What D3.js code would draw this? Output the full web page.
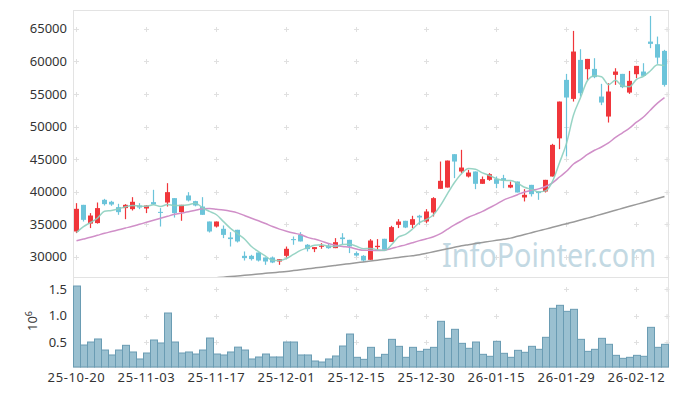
<!DOCTYPE html>
<html>
<head>
<meta charset="utf-8">
<script src="https://cdn.jsdelivr.net/npm/d3@7"></script>
<style>
  body { margin: 0; background: #fff; }
  svg { display: block; font-family: "Noto Sans", sans-serif; }
</style>
</head>
<body>
<div id="chart"></div>
<script>
// trading days shown on the chart
const dates = [
  "2025-10-20","2025-10-21","2025-10-22","2025-10-23","2025-10-24","2025-10-27","2025-10-28","2025-10-29","2025-10-30","2025-10-31",
  "2025-11-03","2025-11-04","2025-11-05","2025-11-06","2025-11-07","2025-11-10","2025-11-11","2025-11-12","2025-11-13","2025-11-14",
  "2025-11-17","2025-11-18","2025-11-19","2025-11-20","2025-11-21","2025-11-24","2025-11-25","2025-11-26","2025-11-27","2025-11-28",
  "2025-12-01","2025-12-02","2025-12-03","2025-12-04","2025-12-05","2025-12-08","2025-12-09","2025-12-10","2025-12-11","2025-12-12",
  "2025-12-15","2025-12-16","2025-12-17","2025-12-18","2025-12-19","2025-12-22","2025-12-23","2025-12-24","2025-12-26","2025-12-29",
  "2025-12-30","2026-01-02","2026-01-05","2026-01-06","2026-01-07","2026-01-08","2026-01-09","2026-01-12","2026-01-13","2026-01-14",
  "2026-01-15","2026-01-16","2026-01-19","2026-01-20","2026-01-21","2026-01-22","2026-01-23","2026-01-26","2026-01-27","2026-01-28",
  "2026-01-29","2026-01-30","2026-02-02","2026-02-03","2026-02-04","2026-02-05","2026-02-06","2026-02-09","2026-02-10","2026-02-11",
  "2026-02-12","2026-02-13","2026-02-19","2026-02-20","2026-02-23"
];

const open = [
  33890,37980,35100,35180,38750,38450,37630,37480,37320,37880,
  37420,38400,36900,38340,39010,36860,39420,38550,37720,35420,
  34650,34300,32970,34150,30150,30150,30660,29900,29900,29280,
  30150,32720,33380,31850,31180,31540,31720,31330,32970,32610,
  30570,30150,29540,31490,32770,32280,34910,35530,34910,36300,
  35420,36800,40440,40640,45760,43100,42330,43100,41210,41820,
  41930,42080,40640,41560,39110,41050,40030,40030,42330,48190,
  57170,54250,60240,58810,58860,54610,51540,57940,58090,55220,
  58040,58450,63050,62650,61620
];
const high = [
  38240,37980,36710,38340,38900,38600,38140,38090,39160,38240,
  37900,40290,37480,41310,39010,37980,39930,38600,39160,35420,
  35420,34810,33790,34150,30820,30310,30660,29900,30050,29650,
  31580,33120,33790,31950,31490,32100,32100,32870,33630,32610,
  30820,30260,32720,32720,32770,34760,35780,35530,36300,36450,
  37320,39160,44630,44780,45760,46430,43350,43100,42330,42850,
  42330,42590,41560,41560,40390,41050,40030,41820,47350,53840,
  58090,64690,61880,60390,60500,56560,56660,58960,58090,58550,
  59320,59730,66990,63820,61780
];
const low = [
  33640,35420,34410,35100,37880,37830,36450,35780,37110,37320,
  36710,37980,34650,37720,36030,35530,38500,37750,36450,33730,
  34500,32870,31580,32200,29430,29430,29280,28770,29030,28770,
  29900,31850,32360,30820,30720,31230,31230,31330,31950,30570,
  30050,29230,29540,31080,31080,32280,34410,34410,34410,34910,
  35180,36190,40440,40640,42080,42850,42180,40390,41210,41670,
  40540,40540,40540,39880,38500,39260,38750,39880,42330,46530,
  45400,53840,54610,57170,57430,53290,50620,56400,55900,55020,
  57430,57790,62040,59630,56140
];
const close = [
  37370,35680,36340,37480,38090,38030,36860,37980,38450,37570,
  37880,38050,36740,39930,36710,37980,38650,37880,36450,33890,
  35420,33370,32720,32360,29800,29650,29430,29280,29130,29640,
  31230,32560,32360,31180,31490,31720,31330,32250,32720,31590,
  30200,29430,32500,31690,31080,34560,35420,34500,35780,36040,
  36960,39010,41670,44780,44630,43710,42940,41210,41930,42690,
  41210,41720,41050,39880,39520,39620,39780,41820,47190,53840,
  54460,61520,55130,60390,57590,53690,55380,58450,56050,57020,
  59320,57790,62700,60590,56400
];
const volume = [
  1556000,450000,506000,563000,356000,263000,356000,444000,319000,188000,
  300000,544000,488000,1050000,506000,300000,319000,281000,356000,581000,
  281000,263000,319000,410000,356000,188000,225000,281000,225000,225000,
  506000,506000,263000,263000,150000,131000,188000,244000,431000,656000,
  219000,181000,406000,219000,275000,556000,425000,219000,406000,331000,
  369000,406000,894000,575000,744000,481000,388000,506000,275000,238000,
  519000,294000,219000,350000,313000,425000,369000,594000,1138000,1194000,
  1081000,1119000,556000,331000,369000,575000,463000,256000,200000,219000,
  256000,238000,781000,406000,463000
];

// moving-average values before enough visible closes exist
const ma5Head = [33730, 34650, 35270, 35940];
const ma20Head = [
  32460,32720,32990,33300,33610,33880,34150,34420,34680,34990,
  35300,35600,35910,36220,36530,36720,36910,37140,37370
];
// long moving average, visible from index 20
const maLongStart = 20;
const maLong = [
  26780,26880,26970,27070,27170,27260,27360,27460,27560,27650,
  27750,27880,28020,28150,28280,28410,28550,28680,28810,28950,
  29080,29220,29350,29490,29630,29760,29900,30040,30170,30310,
  30540,30770,31000,31230,31460,31690,31860,32030,32200,32370,
  32530,32700,32870,33150,33420,33700,33980,34250,34530,34810,
  35090,35360,35640,35940,36240,36540,36850,37150,37450,37750,
  38050,38350,38660,38960,39260
];

const priceTicks = [30000, 35000, 40000, 45000, 50000, 55000, 60000, 65000];
const volTicks = [500000, 1000000, 1500000];
const dateTickIdx = [0, 10, 20, 30, 40, 50, 60, 70, 80];

const W = 677, H = 396;
const plotL = 73, plotR = 668, plotT = 10, plotMid = 277, plotB = 367;
const upColor = "#f0363b", downColor = "#6cc4da";

const svg = d3.select("#chart").append("svg").attr("width", W).attr("height", H);

const x = d3.scaleBand().domain(d3.range(dates.length)).range([plotL, plotR]);
const cx = i => x(i) + x.bandwidth() / 2;
const y = d3.scaleLinear().domain([26900, 67900]).range([plotMid, plotT]);
const yv = d3.scaleLinear().domain([37500, 1725000]).range([plotB, plotMid]);

// moving averages
const ma5 = close.map((c, i) => i < 4 ? ma5Head[i] : d3.mean(close.slice(i - 4, i + 1)));
const ma20 = close.map((c, i) => i < 19 ? ma20Head[i] : d3.mean(close.slice(i - 19, i + 1)));

svg.append("clipPath").attr("id", "pclip")
  .append("rect").attr("x", plotL).attr("y", plotT).attr("width", plotR - plotL).attr("height", plotMid - plotT);

// grid crosses
const grid = svg.append("g").attr("stroke", "#e0e0e0").attr("stroke-width", 1);
function cross(px, py) {
  grid.append("line").attr("x1", px - 2.5).attr("x2", px + 2.5).attr("y1", py).attr("y2", py);
  grid.append("line").attr("x1", px).attr("x2", px).attr("y1", py - 2.5).attr("y2", py + 2.5);
}
const gridX = dateTickIdx.map(i => Math.round(cx(i)) - 0.5).concat([plotR - 1]);
gridX.forEach(px => {
  priceTicks.forEach(v => cross(px, Math.round(y(v)) + 0.5));
  volTicks.forEach(v => cross(px, Math.round(yv(v)) + 0.5));
});

// frame
const frame = svg.append("g").attr("stroke", "#e3e3e3").attr("fill", "none");
frame.append("rect").attr("x", plotL + 0.5).attr("y", plotT + 0.5)
  .attr("width", plotR - plotL).attr("height", plotB - plotT);
frame.append("line").attr("x1", plotL).attr("x2", plotR).attr("y1", plotMid + 0.5).attr("y2", plotMid + 0.5);

// watermark
svg.append("text")
  .attr("transform", "translate(442,267) scale(0.87,1)")
  .attr("font-size", 33)
  .attr("fill", "#c3d9e3")
  .text("InfoPointer.com");

// candles
const pg = svg.append("g").attr("clip-path", "url(#pclip)");
const candles = pg.selectAll(".candle").data(dates).enter().append("g").attr("class", "candle");
candles.append("line")
  .attr("x1", (d, i) => Math.round(cx(i)) - 0.5)
  .attr("x2", (d, i) => Math.round(cx(i)) - 0.5)
  .attr("y1", (d, i) => y(high[i]))
  .attr("y2", (d, i) => y(low[i]))
  .attr("stroke", (d, i) => close[i] >= open[i] ? upColor : downColor)
  .attr("stroke-width", 1.2);
candles.append("rect")
  .attr("x", (d, i) => Math.round(cx(i)) - 3)
  .attr("width", 5)
  .attr("y", (d, i) => y(Math.max(open[i], close[i])))
  .attr("height", (d, i) => Math.max(1, Math.abs(y(open[i]) - y(close[i]))))
  .attr("fill", (d, i) => close[i] >= open[i] ? upColor : downColor);

// moving average lines
const line = d3.line()
  .defined(d => d.v != null)
  .x(d => cx(d.i)).y(d => y(d.v))
  .curve(d3.curveMonotoneX);
const longData = dates.map((d, i) => ({ i, v: i < maLongStart ? null : maLong[i - maLongStart] }));
pg.append("path").datum(longData).attr("d", line)
  .attr("fill", "none").attr("stroke", "#9a9a9a").attr("stroke-width", 1.5);
pg.append("path").datum(ma20.map((v, i) => ({ i, v }))).attr("d", line)
  .attr("fill", "none").attr("stroke", "#d08fc8").attr("stroke-width", 1.5);
pg.append("path").datum(ma5.map((v, i) => ({ i, v }))).attr("d", line)
  .attr("fill", "none").attr("stroke", "#8dcfbf").attr("stroke-width", 1.5).attr("opacity", 0.9);

// volume bars
svg.append("g").selectAll("rect").data(volume).enter().append("rect")
  .attr("x", (d, i) => x(i) + 0.5)
  .attr("width", x.bandwidth())
  .attr("y", d => yv(d))
  .attr("height", d => plotB - yv(d))
  .attr("fill", "#9ac0d0")
  .attr("stroke", "#6a9cb3")
  .attr("stroke-width", 1);

// axis labels
const labels = svg.append("g").attr("fill", "#333").attr("font-size", 13);
labels.selectAll(".py").data(priceTicks).enter().append("text")
  .attr("x", 67).attr("y", d => y(d) + 4.6)
  .attr("text-anchor", "end").text(d => d);
labels.selectAll(".vy").data(volTicks).enter().append("text")
  .attr("x", 67).attr("y", d => yv(d) + 4.6)
  .attr("text-anchor", "end").text(d => d3.format(".1f")(d / 1e6));
labels.selectAll(".dx").data(dateTickIdx).enter().append("text")
  .attr("x", i => cx(i)).attr("y", 382)
  .attr("letter-spacing", 0.6)
  .attr("text-anchor", "middle").text(i => dates[i].slice(2));

const exp = labels.append("text")
  .attr("transform", "translate(37,321) rotate(-90)")
  .attr("text-anchor", "middle");
exp.append("tspan").text("10");
exp.append("tspan").attr("dy", -5).attr("font-size", 9).text("6");
</script>
</body>
</html>
